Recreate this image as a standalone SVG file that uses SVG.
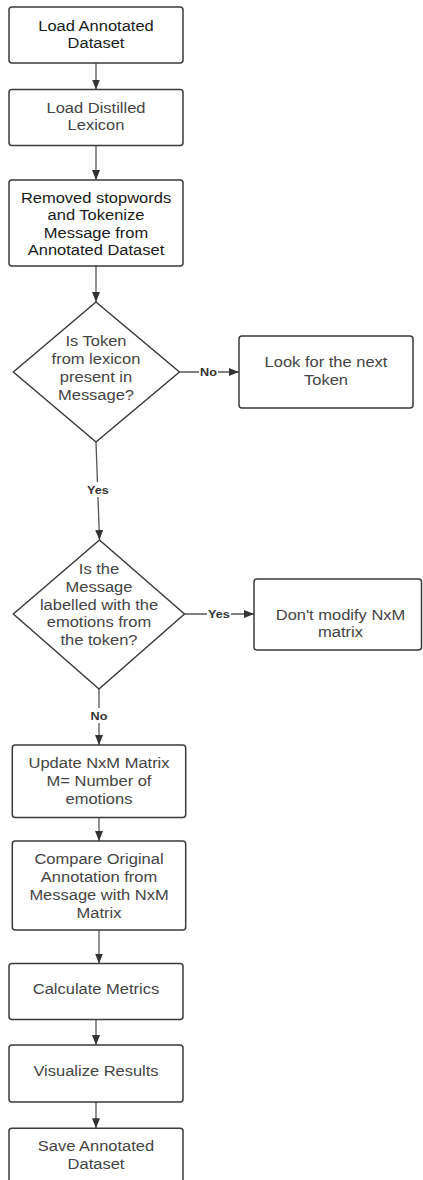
<svg xmlns="http://www.w3.org/2000/svg" width="423" height="1180" viewBox="0 0 423 1180">
  <defs>
    <marker id="arrow" markerUnits="userSpaceOnUse" markerWidth="10" markerHeight="8" refX="10" refY="4" orient="auto">
      <path d="M0,0 L10,4 L0,8 Z" fill="#333"/>
    </marker>
    <style>
      .box { fill: #fff; stroke: #3a3a3a; stroke-width: 1.5; }
      .dia { fill: #fff; stroke: #3a3a3a; stroke-width: 1.5; stroke-linejoin: round; }
      .edge { fill: none; stroke: #555; stroke-width: 1.3; marker-end: url(#arrow); }
      .plain { fill: none; stroke: #555; stroke-width: 1.3; }
      .t { font-family: "Liberation Sans", Arial, sans-serif; font-size: 15px; fill: #444; text-anchor: middle; }
      .dark { fill: #1a1a1a; }
      .lbl { font-family: "Liberation Sans", Arial, sans-serif; font-size: 11.5px; font-weight: bold; fill: #333; text-anchor: middle; }
      .lblbg { fill: #fff; }
    </style>
  </defs>
  <rect width="423" height="1180" fill="#fff"/>

  <!-- connectors -->
  <g id="connectors">
    <line class="edge" x1="96" y1="63" x2="96" y2="89.5"/>
    <line class="edge" x1="96" y1="145.5" x2="96" y2="180"/>
    <line class="edge" x1="96" y1="266" x2="96" y2="302"/>
    <line class="edge" x1="179.5" y1="372" x2="239" y2="372"/>
    <line class="edge" x1="96" y1="442" x2="99.5" y2="540"/>
    <line class="edge" x1="184.5" y1="614" x2="254" y2="614"/>
    <line class="edge" x1="99" y1="689" x2="99" y2="745"/>
    <line class="edge" x1="99" y1="817.5" x2="99" y2="841"/>
    <line class="edge" x1="99" y1="930" x2="99" y2="963.5"/>
    <line class="edge" x1="96" y1="1019.5" x2="96" y2="1045"/>
    <line class="edge" x1="96" y1="1102" x2="96" y2="1128.3"/>
    <!-- branch labels -->
    <rect class="lblbg" x="199" y="364" width="19" height="15"/>
    <text class="lbl" transform="translate(208.5 0) scale(1.1 1)" x="0" y="376.5">No</text>
    <rect class="lblbg" x="86" y="482" width="24" height="15"/>
    <text class="lbl" transform="translate(97.8 0) scale(1.1 1)" x="0" y="494.5">Yes</text>
    <rect class="lblbg" x="207" y="606" width="24" height="15"/>
    <text class="lbl" transform="translate(219 0) scale(1.1 1)" x="0" y="618.5">Yes</text>
    <rect class="lblbg" x="89.5" y="708" width="19" height="15"/>
    <text class="lbl" transform="translate(99 0) scale(1.1 1)" x="0" y="720.5">No</text>
  </g>

  <g id="load-annotated">
    <rect class="box" x="9" y="7" width="174" height="56" rx="3"/>
    <text class="t dark" transform="translate(96 0) scale(1.1 1)"><tspan x="0" y="30.7">Load Annotated</tspan><tspan x="0" y="48.3">Dataset</tspan></text>
  </g>

  <g id="load-lexicon">
    <rect class="box" x="9" y="89.5" width="174" height="56" rx="3"/>
    <text class="t" transform="translate(96 0) scale(1.1 1)"><tspan x="0" y="112.6">Load Distilled</tspan><tspan x="0" y="130.2">Lexicon</tspan></text>
  </g>

  <g id="tokenize">
    <rect class="box" x="9" y="180" width="174" height="86" rx="3"/>
    <text class="t dark" transform="translate(96 0) scale(1.1 1)"><tspan x="0" y="203">Removed stopwords</tspan><tspan x="0" y="220.5">and Tokenize</tspan><tspan x="0" y="238">Message from</tspan><tspan x="0" y="255.5">Annotated Dataset</tspan></text>
  </g>

  <g id="token-present">
    <polygon class="dia" points="96,302 179.5,372 96,442 13.3,372"/>
    <text class="t" transform="translate(96 0) scale(1.1 1)"><tspan x="0" y="346.5">Is Token</tspan><tspan x="0" y="364.5">from lexicon</tspan><tspan x="0" y="382.5">present in</tspan><tspan x="0" y="400.5">Message?</tspan></text>
  </g>

  <g id="next-token">
    <rect class="box" x="239" y="336" width="174" height="72" rx="3"/>
    <text class="t" transform="translate(326 0) scale(1.1 1)"><tspan x="0" y="367.3">Look for the next</tspan><tspan x="0" y="385">Token</tspan></text>
  </g>

  <g id="message-labelled">
    <polygon class="dia" points="99.5,540 184.5,614 99,689 13.3,614"/>
    <text class="t" transform="translate(99 0) scale(1.1 1)"><tspan x="0" y="574">Is the</tspan><tspan x="0" y="591.8">Message</tspan><tspan x="0" y="609.6">labelled with the</tspan><tspan x="0" y="627.4">emotions from</tspan><tspan x="0" y="645.2">the token?</tspan></text>
  </g>

  <g id="keep-matrix">
    <rect class="box" x="254" y="579" width="167.5" height="71" rx="3"/>
    <text class="t" transform="translate(340.5 0) scale(1.1 1)"><tspan x="0" y="620">Don't modify NxM</tspan><tspan x="0" y="637">matrix</tspan></text>
  </g>

  <g id="update-matrix">
    <rect class="box" x="12.3" y="745" width="173.4" height="72.5" rx="3"/>
    <text class="t" transform="translate(99 0) scale(1.1 1)"><tspan x="0" y="768">Update NxM Matrix</tspan><tspan x="0" y="786">M= Number of</tspan><tspan x="0" y="804">emotions</tspan></text>
  </g>

  <g id="compare">
    <rect class="box" x="12.3" y="841" width="173.4" height="89" rx="3"/>
    <text class="t" transform="translate(99 0) scale(1.1 1)"><tspan x="0" y="864">Compare Original</tspan><tspan x="0" y="882">Annotation from</tspan><tspan x="0" y="900">Message with NxM</tspan><tspan x="0" y="918">Matrix</tspan></text>
  </g>

  <g id="metrics">
    <rect class="box" x="9" y="963.5" width="174" height="56" rx="3"/>
    <text class="t" transform="translate(96 0) scale(1.1 1)" x="0" y="994">Calculate Metrics</text>
  </g>

  <g id="visualize">
    <rect class="box" x="9" y="1045" width="174" height="57" rx="3"/>
    <text class="t" transform="translate(96 0) scale(1.1 1)" x="0" y="1076.5">Visualize Results</text>
  </g>

  <g id="save">
    <rect class="box" x="9" y="1128.3" width="174" height="60" rx="3"/>
    <text class="t" transform="translate(96 0) scale(1.1 1)"><tspan x="0" y="1151.5">Save Annotated</tspan><tspan x="0" y="1169">Dataset</tspan></text>
  </g>
</svg>
